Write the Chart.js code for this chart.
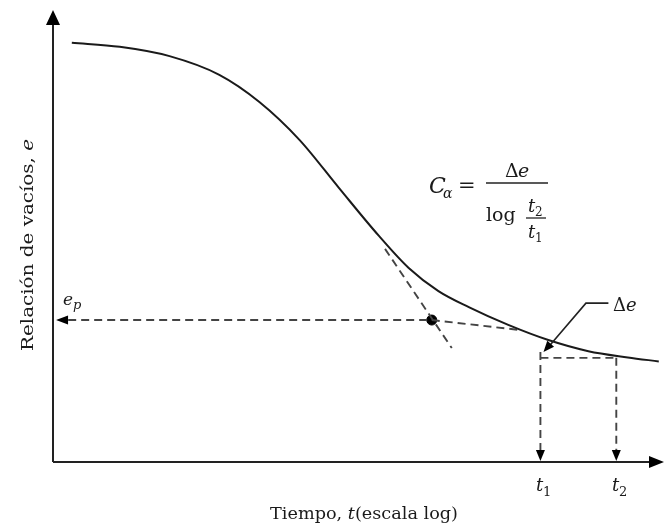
<!DOCTYPE html>
<html>
<head>
<meta charset="utf-8">
<script src="https://cdn.jsdelivr.net/npm/chart.js@4"></script>
<style>
  html, body { margin: 0; padding: 0; background: #fff; }
  #wrap { width: 666px; height: 529px; }
</style>
</head>
<body>
<div id="wrap"><canvas id="consol"></canvas></div>
<script>
// curva e - log t (esquemática), eje x = log t (0..100), eje y = e (0..100)
const curveX = [3.1, 11.0, 19.2, 27.4, 34.0, 40.6, 47.1, 53.7, 58.6, 63.5, 68.5, 75.0, 81.6, 88.2, 94.7, 99.8];
const curveY = [94.2, 93.3, 91.2, 87.0, 80.9, 72.4, 61.6, 50.8, 43.6, 38.4, 34.8, 30.8, 27.4, 24.9, 23.5, 22.6];

// tangente en el punto de inflexión y prolongación de la compresión secundaria
const tangentX = [54.7, 65.7];
const tangentY = [47.9, 25.6];
const secondaryX = [62.4, 76.7];
const secondaryY = [31.9, 29.7];

// e_p
const epX = [0.5, 62.4];
const epY = [31.9, 31.9];

// t1, t2
const t1 = 80.3;
const t2 = 92.8;
const eAtT1 = 24.7;
const eAtT2 = 23.4;

// guía de Δe
const leaderX = [91.5, 87.8, 81.9];
const leaderY = [35.7, 35.7, 26.3];

const serif = '"DejaVu Serif"';
const dash = [8, 5];

function seg(xs, ys) {
  return xs.map((x, i) => ({ x: x, y: ys[i] }));
}

function arrow(ctx, x, y, ang, len, w) {
  ctx.save();
  ctx.translate(x, y);
  ctx.rotate(ang);
  ctx.beginPath();
  ctx.moveTo(0, 0);
  ctx.lineTo(-len, -w);
  ctx.lineTo(-len, w);
  ctx.closePath();
  ctx.fillStyle = '#000';
  ctx.fill();
  ctx.restore();
}

// texto con partes en distintas fuentes, ajustado a un ancho dado
function rich(ctx, parts, cx, y, width) {
  let total = 0;
  parts.forEach(p => { ctx.font = p[1]; total += ctx.measureText(p[0]).width; });
  const k = width ? width / total : 1;
  ctx.save();
  ctx.translate(cx - total * k / 2, y);
  ctx.scale(k, 1);
  let x = 0;
  ctx.textAlign = 'left';
  parts.forEach(p => {
    ctx.font = p[1];
    ctx.fillText(p[0], x, 0);
    x += ctx.measureText(p[0]).width;
  });
  ctx.restore();
}

const annotations = {
  id: 'annotations',
  afterDraw(chart) {
    const ctx = chart.ctx;
    const sx = chart.scales.x, sy = chart.scales.y;
    const X = v => sx.getPixelForValue(v), Y = v => sy.getPixelForValue(v);
    const x0 = X(0), y0 = Y(0);

    // ejes
    ctx.save();
    ctx.strokeStyle = '#222';
    ctx.lineWidth = 2;
    ctx.beginPath();
    ctx.moveTo(x0, y0);
    ctx.lineTo(x0, chart.chartArea.top);
    ctx.moveTo(x0, y0);
    ctx.lineTo(chart.chartArea.right, y0);
    ctx.stroke();
    arrow(ctx, x0, chart.chartArea.top - 7, -Math.PI / 2, 15, 7);
    arrow(ctx, chart.chartArea.right + 4, y0, 0, 15, 6);

    // puntas de flecha
    arrow(ctx, X(epX[0]), Y(epY[0]), Math.PI, 12, 4.5);
    arrow(ctx, X(t1), y0 - 1, Math.PI / 2, 11, 4.5);
    arrow(ctx, X(t2), y0 - 1, Math.PI / 2, 11, 4.5);

    // Δe guía
    ctx.strokeStyle = '#222';
    ctx.lineWidth = 1.6;
    ctx.beginPath();
    ctx.moveTo(X(leaderX[0]), Y(leaderY[0]));
    ctx.lineTo(X(leaderX[1]), Y(leaderY[1]));
    ctx.lineTo(X(leaderX[2]), Y(leaderY[2]));
    ctx.stroke();
    const ang = Math.atan2(Y(eAtT1) - Y(leaderY[1]), X(t1 + 0.5) - X(leaderX[1]));
    arrow(ctx, X(t1 + 0.5), Y(eAtT1), ang, 11, 4.5);

    // títulos de ejes
    ctx.fillStyle = '#1a1a1a';
    ctx.textBaseline = 'alphabetic';
    rich(ctx, [
      ['Tiempo, ', '17px ' + serif],
      ['t', 'italic 17px ' + serif],
      ['(escala log)', '17px ' + serif]
    ], 364, 519, 188);

    ctx.save();
    ctx.translate(33, 245);
    ctx.rotate(-Math.PI / 2);
    rich(ctx, [
      ['Relación de vacíos, ', '17px ' + serif],
      ['e', 'italic 17px ' + serif]
    ], 0, 0, 212);
    ctx.restore();

    ctx.textAlign = 'left';
    // e_p
    ctx.font = 'italic 17px ' + serif;
    ctx.fillText('e', 63, 305);
    ctx.font = 'italic 13px ' + serif;
    ctx.fillText('p', 73, 309);

    // t1, t2
    ctx.font = 'italic 18px ' + serif;
    ctx.fillText('t', 536, 491);
    ctx.fillText('t', 612, 491);
    ctx.font = '13px ' + serif;
    ctx.fillText('1', 543, 496);
    ctx.fillText('2', 619, 496);

    // Δe
    ctx.font = '18px ' + serif;
    ctx.fillText('Δ', 613, 311);
    ctx.font = 'italic 18px ' + serif;
    ctx.fillText('e', 626, 311);

    // C_α = Δe / log(t2/t1)
    ctx.font = 'italic 22px ' + serif;
    ctx.fillText('C', 429, 193);
    ctx.font = 'italic 14px ' + serif;
    ctx.fillText('α', 443, 198);
    ctx.font = '21px ' + serif;
    ctx.fillText('=', 458, 192);
    ctx.lineWidth = 1.6;
    ctx.beginPath();
    ctx.moveTo(486, 183);
    ctx.lineTo(548, 183);
    ctx.stroke();
    ctx.font = '19px ' + serif;
    ctx.fillText('Δ', 505, 177);
    ctx.font = 'italic 19px ' + serif;
    ctx.fillText('e', 518, 177);
    ctx.font = '19px ' + serif;
    ctx.fillText('log', 486, 221);
    ctx.font = 'italic 18px ' + serif;
    ctx.fillText('t', 528, 212);
    ctx.fillText('t', 528, 238);
    ctx.font = '12px ' + serif;
    ctx.fillText('2', 535, 216);
    ctx.fillText('1', 535, 242);
    ctx.lineWidth = 1.3;
    ctx.beginPath();
    ctx.moveTo(526, 218);
    ctx.lineTo(546, 218);
    ctx.stroke();
    ctx.restore();
  }
};

const dashed = (data) => ({
  data: data,
  showLine: true,
  borderColor: '#444',
  borderWidth: 1.9,
  borderDash: dash,
  pointRadius: 0,
  fill: false
});

new Chart(document.getElementById('consol'), {
  type: 'scatter',
  data: {
    datasets: [
      {
        data: seg(curveX, curveY),
        showLine: true,
        borderColor: '#1a1a1a',
        borderWidth: 2,
        pointRadius: 0,
        cubicInterpolationMode: 'monotone'
      },
      dashed(seg(tangentX, tangentY)),
      dashed(seg(secondaryX, secondaryY)),
      dashed(seg([epX[0] + 2, epX[1]], epY)),
      dashed(seg([t1, t2], [eAtT2, eAtT2])),
      dashed(seg([t1, t1], [eAtT1, 2.5])),
      dashed(seg([t2, t2], [eAtT2, 2.5])),
      {
        data: [{ x: epX[1], y: epY[1] }],
        pointRadius: 5,
        pointBackgroundColor: '#000',
        pointBorderColor: '#000'
      }
    ]
  },
  options: {
    responsive: true,
    maintainAspectRatio: false,
    animation: false,
    layout: { padding: { left: 53, right: 4, top: 17, bottom: 67 } },
    plugins: {
      legend: { display: false },
      tooltip: { enabled: false }
    },
    scales: {
      x: { type: 'linear', min: 0, max: 100, display: false },
      y: { type: 'linear', min: 0, max: 100, display: false }
    }
  },
  plugins: [annotations]
});
</script>
</body>
</html>
